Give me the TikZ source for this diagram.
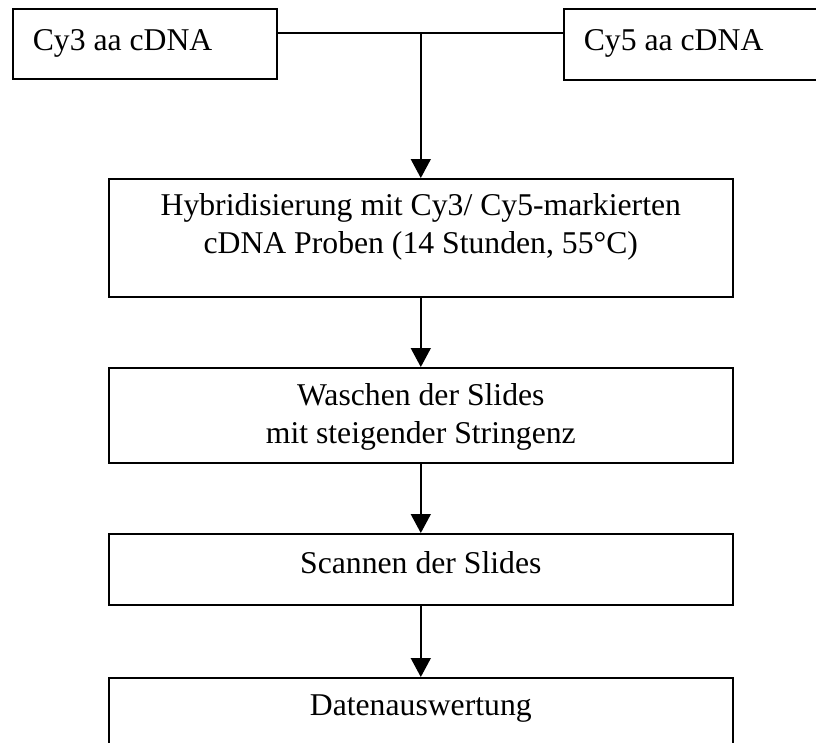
\documentclass[tikz,border=0pt]{standalone}
\usepackage{fontspec}
\setmainfont{Liberation Serif}
\usetikzlibrary{arrows.meta}
\tikzset{
  flowbox/.style={draw, line width=1.6pt, inner sep=0pt, anchor=north west,
    font=\fontsize{31.7}{38}\selectfont},
  conn/.style={line width=1.6pt},
  arr/.style={conn, -{Triangle[width=20pt,length=19pt]}},
}
\begin{document}
\begin{tikzpicture}[x=1pt,y=1pt]
\useasboundingbox (0,0) rectangle (816,-742);
\node[flowbox] (cy3) at (12,-8)
  {\parbox[c][70pt][t]{264pt}{\hspace*{20pt}\rule{0pt}{42pt}Cy3 aa cDNA}};
\node[flowbox] (cy5) at (563,-8)
  {\parbox[c][71pt][t]{277pt}{\hspace*{20pt}\rule{0pt}{42pt}Cy5 aa cDNA}};
\node[flowbox] (hyb) at (108,-178)
  {\parbox[c][118pt][t]{624pt}{\centering\rule{0pt}{37pt}Hybridisierung mit Cy3/ Cy5-markierten\\ cDNA Proben (14 Stunden, 55°C)}};
\node[flowbox] (wash) at (108,-367)
  {\parbox[c][95pt][t]{624pt}{\centering\rule{0pt}{38pt}Waschen der Slides\\ mit steigender Stringenz}};
\node[flowbox] (scan) at (108,-533)
  {\parbox[c][71pt][t]{624pt}{\centering\rule{0pt}{40pt}Scannen der Slides}};
\node[flowbox] (data) at (108,-677)
  {\parbox[c][100pt][t]{624pt}{\centering\rule{0pt}{38pt}Datenauswertung}};
\coordinate (l) at ([yshift=11pt]cy3.east);
\coordinate (j) at (l -| hyb.north);
\draw[conn] (l) -- (l -| cy5.west);
\draw[arr] (j) -- (hyb.north);
\draw[arr] (hyb.south) -- (wash.north);
\draw[arr] (wash.south) -- (scan.north);
\draw[arr] (scan.south) -- (data.north);
\end{tikzpicture}
\end{document}
